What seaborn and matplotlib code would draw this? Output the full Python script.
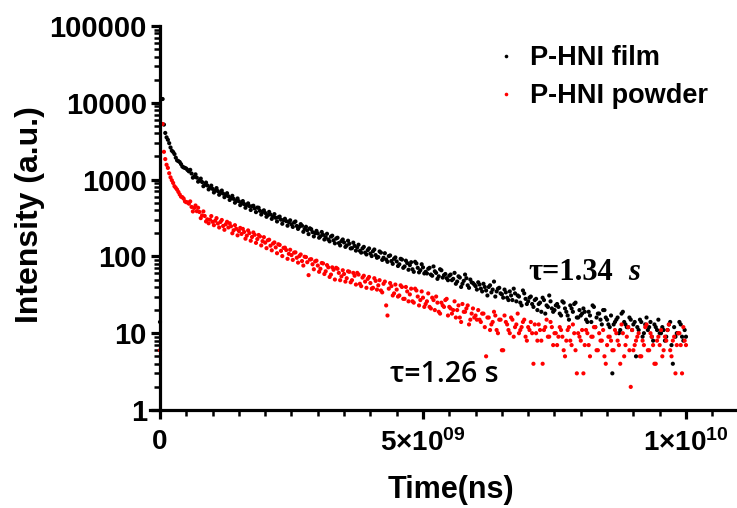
import numpy as np
import pandas as pd
import matplotlib
matplotlib.use("Agg")
import matplotlib.pyplot as plt
import seaborn as sns
from matplotlib.lines import Line2D
from matplotlib.ticker import MultipleLocator, LogLocator, NullFormatter

# ---------------- data ----------------
# sample times in units of 1e9 ns
time_e9 = [
    0.00, 0.05, 0.10, 0.15, 0.20, 0.25, 0.30, 0.35, 0.40, 0.45,
    0.50, 0.55, 0.60, 0.65, 0.70, 0.75, 0.80, 0.85, 0.90, 0.95,
    1.00, 1.05, 1.10, 1.15, 1.20, 1.25, 1.30, 1.35, 1.40, 1.45,
    1.50, 1.55, 1.60, 1.65, 1.70, 1.75, 1.80, 1.85, 1.90, 1.95,
    2.00, 2.05, 2.10, 2.15, 2.20, 2.25, 2.30, 2.35, 2.40, 2.45,
    2.50, 2.55, 2.60, 2.65, 2.70, 2.75, 2.80, 2.85, 2.90, 2.95,
    3.00, 3.05, 3.10, 3.15, 3.20, 3.25, 3.30, 3.35, 3.40, 3.45,
    3.50, 3.55, 3.60, 3.65, 3.70, 3.75, 3.80, 3.85, 3.90, 3.95,
    4.00, 4.05, 4.10, 4.15, 4.20, 4.25, 4.30, 4.35, 4.40, 4.45,
    4.50, 4.55, 4.60, 4.65, 4.70, 4.75, 4.80, 4.85, 4.90, 4.95,
    5.00, 5.05, 5.10, 5.15, 5.20, 5.25, 5.30, 5.35, 5.40, 5.45,
    5.50, 5.55, 5.60, 5.65, 5.70, 5.75, 5.80, 5.85, 5.90, 5.95,
    6.00, 6.05, 6.10, 6.15, 6.20, 6.25, 6.30, 6.35, 6.40, 6.45,
    6.50, 6.55, 6.60, 6.65, 6.70, 6.75, 6.80, 6.85, 6.90, 6.95,
    7.00, 7.05, 7.10, 7.15, 7.20, 7.25, 7.30, 7.35, 7.40, 7.45,
    7.50, 7.55, 7.60, 7.65, 7.70, 7.75, 7.80, 7.85, 7.90, 7.95,
    8.00, 8.05, 8.10, 8.15, 8.20, 8.25, 8.30, 8.35, 8.40, 8.45,
    8.50, 8.55, 8.60, 8.65, 8.70, 8.75, 8.80, 8.85, 8.90, 8.95,
    9.00, 9.05, 9.10, 9.15, 9.20, 9.25, 9.30, 9.35, 9.40, 9.45,
    9.50, 9.55, 9.60, 9.65, 9.70, 9.75, 9.80, 9.85, 9.90, 9.95,
    10.00,
]

time_mid_e9 = [
    0.075, 0.125, 0.175, 0.225, 0.275, 0.325, 0.375, 0.425, 0.475, 0.525,
    0.575, 0.625, 0.675, 0.725, 0.775, 0.825, 0.875, 0.925, 0.975, 1.025,
    1.075, 1.125, 1.175, 1.225, 1.275, 1.325, 1.375, 1.425, 1.475, 1.525,
    1.575, 1.625, 1.675, 1.725, 1.775, 1.825, 1.875, 1.925, 1.975, 2.025,
    2.075, 2.125, 2.175, 2.225, 2.275, 2.325, 2.375, 2.425, 2.475, 2.525,
    2.575, 2.625, 2.675, 2.725, 2.775, 2.825, 2.875, 2.925, 2.975, 3.025,
    3.075, 3.125, 3.175, 3.225, 3.275, 3.325, 3.375, 3.425, 3.475, 3.525,
    3.575, 3.625, 3.675, 3.725, 3.775, 3.825, 3.875, 3.925, 3.975, 4.025,
    4.075, 4.125, 4.175, 4.225, 4.275, 4.325, 4.375, 4.425, 4.475, 4.525,
    4.575, 4.625, 4.675, 4.725, 4.775, 4.825, 4.875, 4.925, 4.975, 5.025,
    5.075, 5.125, 5.175, 5.225, 5.275, 5.325, 5.375, 5.425, 5.475, 5.525,
    5.575, 5.625, 5.675, 5.725, 5.775, 5.825, 5.875, 5.925, 5.975, 6.025,
    6.075, 6.125, 6.175, 6.225, 6.275, 6.325, 6.375, 6.425, 6.475, 6.525,
    6.575, 6.625, 6.675, 6.725, 6.775, 6.825, 6.875, 6.925, 6.975, 7.025,
    7.075, 7.125, 7.175, 7.225, 7.275, 7.325, 7.375, 7.425, 7.475, 7.525,
    7.575, 7.625, 7.675, 7.725, 7.775, 7.825, 7.875, 7.925, 7.975, 8.025,
    8.075, 8.125, 8.175, 8.225, 8.275, 8.325, 8.375, 8.425, 8.475, 8.525,
    8.575, 8.625, 8.675, 8.725, 8.775, 8.825, 8.875, 8.925, 8.975, 9.025,
    9.075, 9.125, 9.175, 9.225, 9.275, 9.325, 9.375, 9.425, 9.475, 9.525,
    9.575, 9.625, 9.675, 9.725, 9.775, 9.825, 9.875, 9.925, 9.975,
]

film = [
    14, 11200, 4050, 3300, 2620, 2290, 1930, 1740, 1590, 1440,
    1390, 1280, 1200, 1090, 1060, 980, 930, 855, 838, 782,
    757, 722, 708, 671, 658, 624, 607, 574, 561, 529,
    522, 488, 481, 468, 452, 449, 421, 432, 392, 381,
    368, 345, 351, 331, 318, 322, 301, 296, 288, 279,
    262, 276, 249, 243, 251, 228, 219, 232, 207, 201,
    199, 183, 191, 178, 166, 181, 162, 171, 149, 158,
    152, 139, 146, 128, 137, 131, 118, 127, 112, 121,
    109, 117, 104, 98, 112, 96, 91, 101, 87, 93,
    86, 79, 91, 74, 82, 77, 68, 85, 71, 66,
    72, 63, 69, 58, 74, 61, 55, 66, 57, 52,
    56, 49, 61, 47, 53, 44, 58, 42, 50, 45,
    41, 46, 38, 44, 36, 40, 34, 47, 35, 39,
    32, 37, 29, 35, 27, 33, 31, 25, 36, 28,
    26, 30, 22, 28, 24, 19, 27, 23, 31, 21,
    20, 24, 18, 26, 21, 17, 23, 19, 25, 16,
    17, 21, 15, 19, 14, 22, 16, 18, 13, 20,
    15, 12, 3, 14, 16, 11, 19, 13, 12, 15,
    13, 5, 11, 14, 10, 16, 12, 9, 13, 11,
    10, 12, 8, 11, 14, 4, 9, 10, 13, 8,
    9,
]

film_mid = [
    5200, 3550, 2980, 2380, 2150, 1780, 1690, 1480, 1420, 1330,
    1340, 1060, 1170, 940, 1030, 820, 915, 745, 835, 680,
    775, 635, 720, 590, 665, 543, 615, 500, 568, 465,
    525, 430, 490, 402, 457, 377, 430, 351, 398, 328,
    380, 308, 355, 285, 330, 266, 309, 251, 295, 242,
    285, 228, 263, 209, 243, 195, 226, 182, 215, 175,
    208, 166, 197, 157, 186, 148, 175, 139, 166, 133,
    160, 127, 151, 119, 142, 112, 133, 106, 127, 101,
    123, 96, 116, 90, 110, 85, 103, 80, 97, 75,
    93, 71, 88, 67, 84, 63, 81, 62, 79, 60,
    60, 71, 56, 64, 51, 68, 53, 59, 49, 58,
    51, 44, 55, 40, 48, 52, 39, 46, 43, 37,
    43, 35, 40, 31, 42, 37, 30, 38, 33, 29,
    34, 27, 31, 38, 26, 30, 23, 33, 24, 29,
    24, 27, 20, 25, 29, 18, 22, 26, 19, 23,
    22, 17, 25, 19, 15, 21, 24, 16, 20, 18,
    19, 14, 17, 23, 12, 18, 15, 20, 16, 13,
    17, 13, 15, 10, 18, 14, 12, 16, 11, 14,
    12, 15, 9, 13, 11, 14, 8, 12, 15, 10,
    11, 9, 13, 7, 12, 10, 14, 9, 11,
]

powder = [
    6, 5300, 1850, 1420, 1070, 905, 780, 690, 600, 565,
    508, 486, 441, 428, 388, 379, 342, 336, 304, 301,
    282, 291, 268, 281, 249, 262, 238, 247, 219, 229,
    214, 196, 208, 186, 201, 179, 191, 168, 182, 158,
    151, 162, 138, 147, 131, 144, 118, 129, 121, 108,
    104, 112, 96, 101, 87, 99, 84, 91, 79, 86,
    76, 69, 81, 64, 72, 58, 67, 71, 61, 55,
    59, 52, 63, 49, 56, 61, 44, 53, 47, 51,
    45, 39, 48, 42, 36, 44, 23, 38, 41, 33,
    37, 31, 40, 28, 35, 32, 26, 38, 30, 27,
    29, 24, 33, 21, 27, 30, 19, 25, 22, 28,
    22, 18, 26, 20, 16, 24, 19, 23, 15, 21,
    17, 20, 14, 18, 5, 16, 13, 19, 11, 15,
    6, 17, 13, 10, 15, 12, 18, 11, 14, 9,
    12, 14, 4, 10, 13, 8, 11, 15, 9, 12,
    10, 7, 12, 9, 5, 11, 8, 13, 6, 10,
    8, 3, 11, 7, 9, 12, 6, 10, 8, 5,
    7, 9, 6, 11, 8, 4, 10, 7, 12, 2,
    6, 8, 10, 5, 7, 13, 6, 9, 4, 8,
    7, 5, 9, 11, 6, 8, 3, 10, 7, 12,
    7,
]

powder_mid = [
    2300, 1560, 1210, 980, 820, 740, 640, 590, 520, 505,
    520, 385, 460, 430, 315, 385, 285, 270, 335, 255,
    315, 238, 298, 222, 282, 270, 200, 255, 188, 235,
    228, 170, 218, 160, 205, 150, 190, 139, 178, 128,
    165, 120, 152, 110, 141, 101, 130, 93, 122, 90,
    113, 83, 106, 76, 98, 57, 92, 68, 88, 63,
    82, 59, 77, 54, 72, 50, 69, 49, 66, 47,
    64, 46, 61, 43, 58, 41, 56, 39, 54, 38,
    52, 37, 49, 34, 47, 17, 45, 31, 43, 30,
    42, 28, 40, 26, 38, 25, 36, 23, 35, 22,
    26, 22, 29, 20, 25, 18, 23, 27, 17, 21,
    20, 16, 23, 14, 19, 21, 13, 18, 16, 15,
    15, 18, 12, 16, 11, 14, 17, 10, 15, 6,
    14, 11, 16, 9, 13, 10, 12, 15, 8, 11,
    10, 13, 8, 11, 4, 12, 9, 14, 7, 10,
    9, 11, 6, 8, 12, 7, 10, 3, 9, 11,
    7, 10, 5, 9, 12, 6, 8, 11, 4, 9,
    8, 6, 10, 7, 13, 5, 9, 6, 11, 7,
    9, 5, 8, 12, 6, 10, 7, 4, 9, 11,
    6, 8, 13, 5, 9, 7, 10, 3, 8,
]

series_names = ["P-HNI film", "P-HNI powder"]
series_colors = ["#000000", "#FF0000"]
y_ticks = [1, 10, 100, 1000, 10000, 100000]
y_tick_labels = ["1", "10", "100", "1000", "10000", "100000"]
x_ticks = [0, 5e9, 1e10]
x_tick_labels = ["0", "$5{\u00d7}10^{09}$", "$1{\u00d7}10^{10}$"]
tau_film_text = "\u03c4=1.34"
tau_film_unit = "s"
tau_powder_text = "\u03c4=1.26 s"

# ---------------- style ----------------
sns.set_style("ticks")
plt.rcParams["font.family"] = ["Liberation Sans", "DejaVu Sans"]
plt.rcParams["font.weight"] = "bold"
for key in ("text.color", "axes.labelcolor", "xtick.color", "ytick.color", "axes.edgecolor"):
    plt.rcParams[key] = "black"
plt.rcParams["mathtext.fontset"] = "custom"
plt.rcParams["mathtext.rm"] = "Liberation Sans:bold"
plt.rcParams["mathtext.bf"] = "Liberation Sans:bold"
plt.rcParams["mathtext.it"] = "Liberation Sans:bold:italic"
plt.rcParams["mathtext.default"] = "rm"

W, H = 737, 508
film_t = [t * 1e9 for t in time_e9] + [t * 1e9 for t in time_mid_e9]
powder_t = [t * 1e9 for t in time_e9] + [t * 1e9 for t in time_mid_e9]
df = pd.DataFrame({
    "Time": film_t + powder_t,
    "Intensity": film + film_mid + powder + powder_mid,
    "Sample": [series_names[0]] * len(film_t) + [series_names[1]] * len(powder_t),
})

fig = plt.figure(figsize=(W / 100, H / 100), dpi=100)
ax = fig.add_axes([150 / W, (H - 410) / H, 587 / W, 384 / H])

sns.scatterplot(data=df, x="Time", y="Intensity", hue="Sample",
                hue_order=series_names, palette=series_colors,
                s=9, linewidth=0, ax=ax, legend=False, clip_on=False)

ax.set_yscale("log")
ax.set_ylim(1, 1e5)
ax.set_xlim(-0.19e9, 10.97e9)
ax.spines["left"].set_position(("data", 0))
ax.spines["top"].set_visible(False)
ax.spines["right"].set_visible(False)
for s in ("left", "bottom"):
    ax.spines[s].set_linewidth(2.3)
    ax.spines[s].set_color("black")

ax.set_yticks(y_ticks)
ax.set_yticklabels(y_tick_labels)
ax.yaxis.set_minor_locator(LogLocator(base=10, subs=[2, 3, 4, 5, 6, 7, 8, 9], numticks=20))
ax.yaxis.set_minor_formatter(NullFormatter())
ax.set_xticks(x_ticks)
ax.set_xticklabels(x_tick_labels)
ax.xaxis.set_minor_locator(MultipleLocator(0.5e9))

ax.tick_params(which="major", length=6.5, width=2.3, labelsize=21, pad=3, color="black",
               labelcolor="black")
ax.tick_params(which="minor", length=4.2, width=1.8, color="black")
ax.tick_params(axis="x", which="major", pad=7, labelsize=20)

ax.set_xlabel("Time(ns)", fontsize=22, fontweight="bold", color="black")
ax.set_ylabel("Intensity (a.u.)", fontsize=23, fontweight="bold", color="black")
ax.xaxis.set_label_coords((451 - 150) / 587, (410 - 490) / 384)
ax.xaxis.label.set_verticalalignment("center")
ax.yaxis.set_label_coords((30 - 150) / 587, (410 - 215) / 384)
ax.yaxis.label.set_verticalalignment("center")

handles = [Line2D([], [], marker="o", linestyle="", color=c, markersize=2.6,
                  markeredgewidth=0) for c in series_colors]
ax.legend(handles, series_names, loc="upper left",
          bbox_to_anchor=(498 / W, 1 - 45 / H), bbox_transform=fig.transFigure,
          frameon=False, prop={"weight": "bold", "size": 19.5},
          handlelength=0.6, handletextpad=0.6, borderpad=0, borderaxespad=0,
          labelspacing=0.45, labelcolor="black")

ax.text((528 - 150) / 587, (410 - 280) / 384, tau_film_text, transform=ax.transAxes,
        fontsize=22, fontweight="bold", family=["Liberation Serif", "DejaVu Serif"],
        ha="left", va="baseline", color="black")
ax.text((628 - 150) / 587, (410 - 280) / 384, tau_film_unit, transform=ax.transAxes,
        fontsize=22, fontweight="bold", style="italic",
        family=["Liberation Serif", "DejaVu Serif"], ha="left", va="baseline", color="black")
ax.text((390 - 150) / 587, (410 - 382) / 384, tau_powder_text, transform=ax.transAxes,
        fontsize=20.5, fontweight="semibold", family=["Open Sans", "DejaVu Sans"],
        ha="left", va="baseline", color="black")

fig.savefig("out.png", dpi=100)
